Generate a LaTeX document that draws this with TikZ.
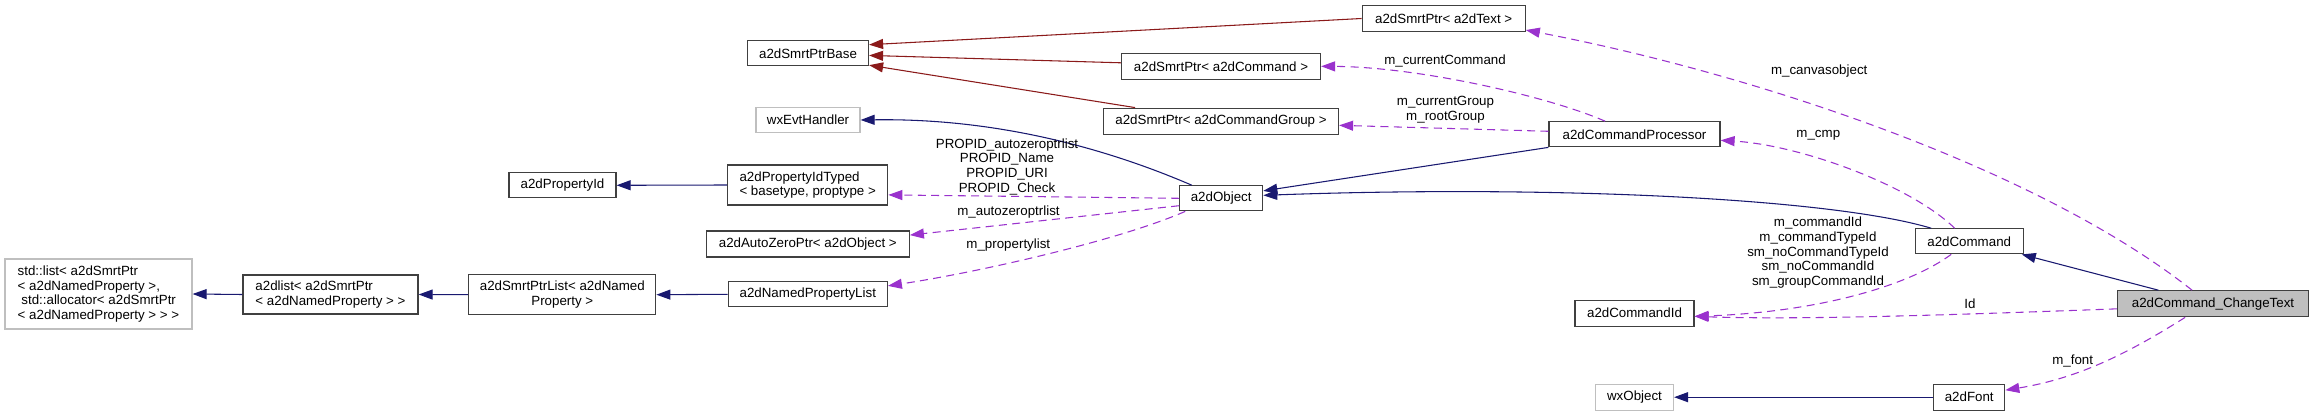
\documentclass[tikz,border=0pt]{standalone}
\usepackage{fontspec}
\setmainfont{Liberation Sans}
\usetikzlibrary{arrows.meta}
\definecolor{inhcol}{HTML}{191970}
\definecolor{tplcol}{HTML}{8B1A1A}
\definecolor{usecol}{HTML}{9A32CD}
\definecolor{extgray}{HTML}{BFBFBF}
\begin{document}
\begin{tikzpicture}[x = 0.75pt, y = -0.75pt,
                    every node/.style = {font = \fontsize{10}{11}\selectfont, inner sep = 0pt},
                    sz/.style 2 args = {minimum width = #1*0.75pt, minimum height = #2*0.75pt},
                    cls/.style = {draw = black!75, line width = 0.9pt},
                    ext/.style = {draw = extgray, line width = 0.9pt},
                    cur/.style = {draw = black!75, fill = extgray, line width = 0.9pt},
                    inh/.style = {draw = inhcol, line width = 0.8pt,
                                  -{Triangle[length = 10.5pt, width = 7.5pt]}},
                    tpl/.style = {inh, draw = tplcol},
                    use/.style = {draw = usecol, line width = 0.8pt, dash pattern = on 6pt off 4pt,
                                  -{Triangle[length = 10.5pt, width = 7.5pt]}},
                    lbl/.style = {align = center}]
      \useasboundingbox (0, 0) rectangle (2315, 416);

      \node [cls, sz = {121}{25}] (ptrbase) at (808, 53.3) {a2dSmrtPtrBase};
      \node [ext, sz = {104}{25}] (evthandler) at (808, 120) {wxEvtHandler};
      \node [cls, sz = {107}{25}] (propid) at (562.5, 185.3) {a2dPropertyId};
      \node [cls, sz = {160}{40}, align = left] (propidtyped) at (807.7, 185)
            {a2dPropertyIdTyped\\< basetype, proptype >};
      \node [cls, sz = {203}{26}] (autozero) at (807.8, 244) {a2dAutoZeroPtr< a2dObject >};
      \node [cls, sz = {187}{40}, align = center] (smrtptrlist) at (562.3, 294.7)
            {a2dSmrtPtrList< a2dNamed\\Property >};
      \node [cls, sz = {159}{25}] (namedproplist) at (807.8, 294.3) {a2dNamedPropertyList};
      \node [cls, sz = {175}{39}, align = left] (a2dlist) at (330.5, 294.5)
            {a2dlist< a2dSmrtPtr\\< a2dNamedProperty > >};
      \node [ext, sz = {187}{70}, align = left] (stdlist) at (98.5, 294)
            {std::list< a2dSmrtPtr\\< a2dNamedProperty >,\\\ std::allocator< a2dSmrtPtr\\< a2dNamedProperty > > >};

      \node [cls, sz = {163}{26}] (ptrtext) at (1443.7, 18.5) {a2dSmrtPtr< a2dText >};
      \node [cls, sz = {199}{26}] (ptrcmd) at (1221, 66.3) {a2dSmrtPtr< a2dCommand >};
      \node [cls, sz = {235}{26}] (ptrgroup) at (1221, 121.2) {a2dSmrtPtr< a2dCommandGroup >};
      \node [cls, sz = {83}{25}] (obj) at (1221.2, 198.3) {a2dObject};
      \node [cls, sz = {171}{25}] (cmdproc) at (1634.5, 134.3) {a2dCommandProcessor};
      \node [cls, sz = {108}{25}] (cmd) at (1969.2, 241.3) {a2dCommand};
      \node [cur, sz = {191}{26}] (changetext) at (2213, 303.8) {a2dCommand\_ChangeText};
      \node [cls, sz = {119}{26}] (cmdid) at (1634.5, 313.2) {a2dCommandId};
      \node [ext, sz = {78}{26}] (wxobject) at (1634.5, 397.2) {wxObject};
      \node [cls, sz = {71}{26}] (font) at (1969.2, 397.2) {a2dFont};

      \draw [tpl] (ptrtext.west) -- (ptrbase.8);
      \draw [tpl] (ptrcmd.178) -- (ptrbase.-2);
      \draw [tpl] (ptrgroup.171) -- (ptrbase.-11);

      \draw [inh] (obj.156) .. controls (1110, 150) and (1000, 118) .. (evthandler.east);
      \draw [inh] (propidtyped.west) -- (propid.east);
      \draw [inh] (namedproplist.west) -- (smrtptrlist.east);
      \draw [inh] (smrtptrlist.west) -- (a2dlist.east);
      \draw [inh] (a2dlist.west) -- (stdlist.east);
      \draw [inh] (cmdproc.south west) -- (obj.10);
      \draw [inh] (cmd.161) .. controls (1830, 198) and (1550, 185) .. (obj.4);
      \draw [inh] (changetext.166) -- (cmd.-14);
      \draw [inh] (font.west) -- (wxobject.east);

      \draw [use] (obj.west) -- (propidtyped.-7);
      \draw [use] (obj.190) -- (autozero.5);
      \draw [use] (obj.200) .. controls (1120, 240) and (980, 272) .. (namedproplist.6);
      \draw [use] (cmdproc.156) .. controls (1550, 97) and (1420, 67) .. (ptrcmd.east);
      \draw [use] (cmdproc.178) -- (ptrgroup.-2);
      \draw [use] (cmd.138) .. controls (1910, 185) and (1800, 145) .. (cmdproc.-4);
      \draw [use] (cmd.216) .. controls (1910, 285) and (1820, 312) .. (cmdid.-3);
      \draw [use] (changetext.147) .. controls (2040, 170) and (1760, 75) .. (ptrtext.-8);
      \draw [use] (changetext.183) .. controls (1950, 315) and (1800, 320) .. (cmdid.-3);
      \draw [use] (changetext.206) .. controls (2130, 352) and (2080, 378) .. (font.11);

      \node [lbl] (lpropid) at (1007, 166.7)
            {PROPID\_autozeroptrlist\\PROPID\_Name\\PROPID\_URI\\PROPID\_Check};
      \node [lbl] (lautozero) at (1008.5, 211.7) {m\_autozeroptrlist};
      \node [lbl] (lproplist) at (1008.3, 244.7) {m\_propertylist};
      \node [lbl] (lcurcmd) at (1445, 60.7) {m\_currentCommand};
      \node [lbl] (lgroup) at (1445.5, 109.7) {m\_currentGroup\\m\_rootGroup};
      \node [lbl] (lcanvas) at (1819.2, 70.7) {m\_canvasobject};
      \node [lbl] (lcmp) at (1818.3, 135) {m\_cmp};
      \node [lbl] (lcmdid) at (1818, 252.7)
            {m\_commandId\\m\_commandTypeId\\sm\_noCommandTypeId\\sm\_noCommandId\\sm\_groupCommandId};
      \node [lbl] (lid) at (1970, 303.6) {Id};
      \node [lbl] (lfont) at (2072.7, 360.7) {m\_font};
    \end{tikzpicture}
\end{document}
